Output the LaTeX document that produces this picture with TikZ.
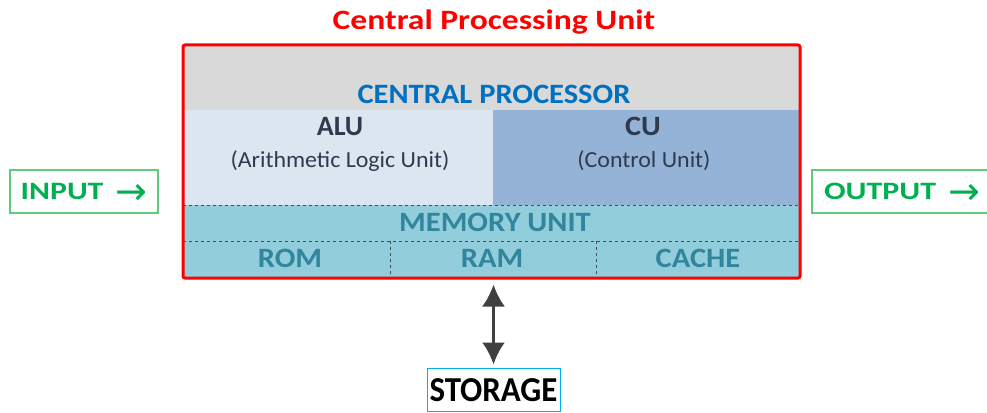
\documentclass[tikz,border=0pt]{standalone}
\usepackage{fontspec}
\setmainfont{Carlito}
\newfontfamily\arrowfont{DejaVu Sans}
\usepackage{tikz}
\usetikzlibrary{arrows.meta}

\definecolor{cpured}{HTML}{FF0000}
\definecolor{cpugray}{HTML}{D9D9D9}
\definecolor{alubg}{HTML}{DCE6F1}
\definecolor{cubg}{HTML}{95B3D7}
\definecolor{membg}{HTML}{92CDDC}
\definecolor{memtext}{HTML}{31859C}
\definecolor{proctext}{HTML}{0070C0}
\definecolor{unittext}{HTML}{2E3B4E}
\definecolor{iotext}{HTML}{00B050}
\definecolor{ioline}{HTML}{5FCB80}
\definecolor{storeline}{HTML}{00B0F0}
\newcommand{\wide}[2]{\scalebox{#1}[1]{#2}}
\newcommand{\ioarrow}{\raisebox{-5pt}{\arrowfont\mdseries\fontsize{38}{38}\selectfont →}}

\begin{document}
\begin{tikzpicture}[x=1pt,y=-1pt,
  big/.style={font=\bfseries\fontsize{28}{32}\selectfont,anchor=base},
  small/.style={font=\fontsize{23}{26}\selectfont,text=unittext,anchor=base},
  memlabel/.style={big,text=memtext},
  dashline/.style={draw=black!70,dashed,line width=1pt},
  iolabel/.style={font=\bfseries\fontsize{25}{28}\selectfont,text=iotext,text height=16pt,text depth=0pt,inner sep=0pt}]
\useasboundingbox (0,0) rectangle (987,412);
% filled parts of the cpu
\fill[cpugray] (183,45) rectangle (800,110);
\fill[alubg] (183,110) rectangle (493,205);
\fill[cubg] (493,110) rectangle (800,205);
\fill[membg] (183,205) rectangle (800,278);
\draw[dashline] (183,205) -- (800,205);
\draw[dashline] (183,241) -- (800,241);
\draw[dashline] (390,241) -- (390,278);
\draw[dashline] (596,241) -- (596,278);
\node[draw=cpured,line width=3pt,rounded corners=2pt,minimum width=617pt,minimum height=233pt,inner sep=0pt] (cpu) at (491.5,161.5) {};

\node[big,text=cpured] (title) at (494,30) {\wide{1.2}{Central Processing Unit}};
\node[big,text=proctext] (proc) at (494,103) {\wide{1.09}{CENTRAL PROCESSOR}};
\node[big,text=unittext] (alu) at (340,135) {ALU};
\node[small] (alutxt) at (340,167) {\wide{1.04}{(Arithmetic Logic Unit)}};
\node[big,text=unittext] (cu) at (643,135) {\wide{1.08}{CU}};
\node[small] (cutxt) at (644,167) {\wide{1.04}{(Control Unit)}};
\node[memlabel] (mem) at (495,231) {\wide{1.09}{MEMORY UNIT}};
\node[memlabel] (rom) at (290,267) {\wide{1.09}{ROM}};
\node[memlabel] (ram) at (492,267) {\wide{1.09}{RAM}};
\node[memlabel] (cache) at (698,267) {\wide{1.09}{CACHE}};

\node[iolabel,draw=ioline,line width=1.5pt,minimum width=148pt,minimum height=43pt] (input) at (84,191.5) {\wide{1.27}{INPUT}\hspace{12pt}\ioarrow};
\node[iolabel] (output) at (902,191.5) {\wide{1.28}{OUTPUT}\hspace{12pt}\ioarrow};
\draw[ioline,line width=1.5pt] (990,170) -| (812,213) -- (990,213);

\node[draw=storeline,line width=1pt,font=\bfseries\fontsize{35}{38}\selectfont,text height=23pt,text depth=0pt,minimum width=133pt,minimum height=43pt,inner sep=0pt] (storage) at (493.5,389.5) {\wide{0.94}{STORAGE}};
\draw[{Latex[length=22pt,width=23pt]}-{Latex[length=22pt,width=23pt]},line width=3pt,draw=black!75,shorten <=5pt,shorten >=3pt] (cpu.south -| storage.north) -- (storage.north);
\end{tikzpicture}
\end{document}
